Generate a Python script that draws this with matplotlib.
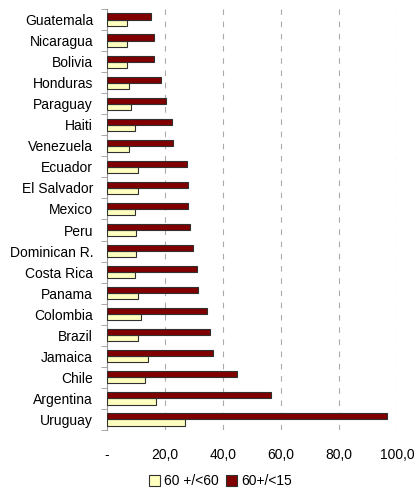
import matplotlib
matplotlib.use('Agg')
import matplotlib.pyplot as plt
import numpy as np

countries = ['Uruguay', 'Argentina', 'Chile', 'Jamaica', 'Brazil', 'Colombia',
             'Panama', 'Costa Rica', 'Dominican R.', 'Peru', 'Mexico',
             'El Salvador', 'Ecuador', 'Venezuela', 'Haiti', 'Paraguay',
             'Honduras', 'Bolivia', 'Nicaragua', 'Guatemala']
ratio_60_60 = [27.0, 16.9, 13.0, 14.0, 10.6, 11.6, 10.6, 9.7, 10.1, 10.1, 9.7,
               10.6, 10.6, 7.7, 9.7, 8.3, 7.7, 6.8, 6.8, 6.8]
ratio_60_15 = [96.4, 56.4, 44.8, 36.5, 35.5, 34.4, 31.5, 30.9, 29.5, 28.6, 28.0,
               28.0, 27.6, 22.6, 22.3, 20.3, 18.5, 16.1, 16.1, 15.1]
xticks = [0, 20, 40, 60, 80, 100]
xtick_labels = ['-', '20,0', '40,0', '60,0', '80,0', '100,0']

plt.rcParams['font.family'] = ['Liberation Sans', 'DejaVu Sans']

fig = plt.figure(figsize=(4.17, 4.94), dpi=100)
ax = fig.add_axes([107 / 417, 1 - 430 / 494, 290 / 417, 421 / 494])

y = np.arange(len(countries))
h = 0.29
ax.barh(y - h / 2, ratio_60_60, height=h, color='#FFFFC0', edgecolor='#303030',
        linewidth=0.8, label='60 +/<60', zorder=3)
ax.barh(y + h / 2, ratio_60_15, height=h, color='#800000', edgecolor='#303030',
        linewidth=0.8, label='60+/<15', zorder=3)

ax.set_xlim(0, 100)
ax.set_ylim(-0.5, len(countries) - 0.5)
ax.set_yticks(y)
ax.set_yticklabels(countries, fontsize=10)
ax.set_yticks(np.arange(-0.5, len(countries), 1), minor=True)
ax.tick_params(axis='y', which='major', length=0, pad=10)
ax.tick_params(axis='y', which='minor', length=4, color='#999999')
ax.set_xticks(xticks)
ax.set_xticklabels(xtick_labels, fontsize=10)
ax.tick_params(axis='x', length=0, pad=13)

ax.grid(axis='x', color='#aaaaaa', linestyle=(0, (5, 6)), linewidth=0.8, zorder=0)
for s in ['top', 'right', 'bottom']:
    ax.spines[s].set_visible(False)
ax.spines['left'].set_color('#999999')

ax.legend(loc='upper center', bbox_to_anchor=(0.39, -0.076), ncol=2, frameon=False,
          fontsize=10, handlelength=0.8, handleheight=0.8, handletextpad=0.3,
          columnspacing=0.5)

fig.savefig('out.png', dpi=100)
